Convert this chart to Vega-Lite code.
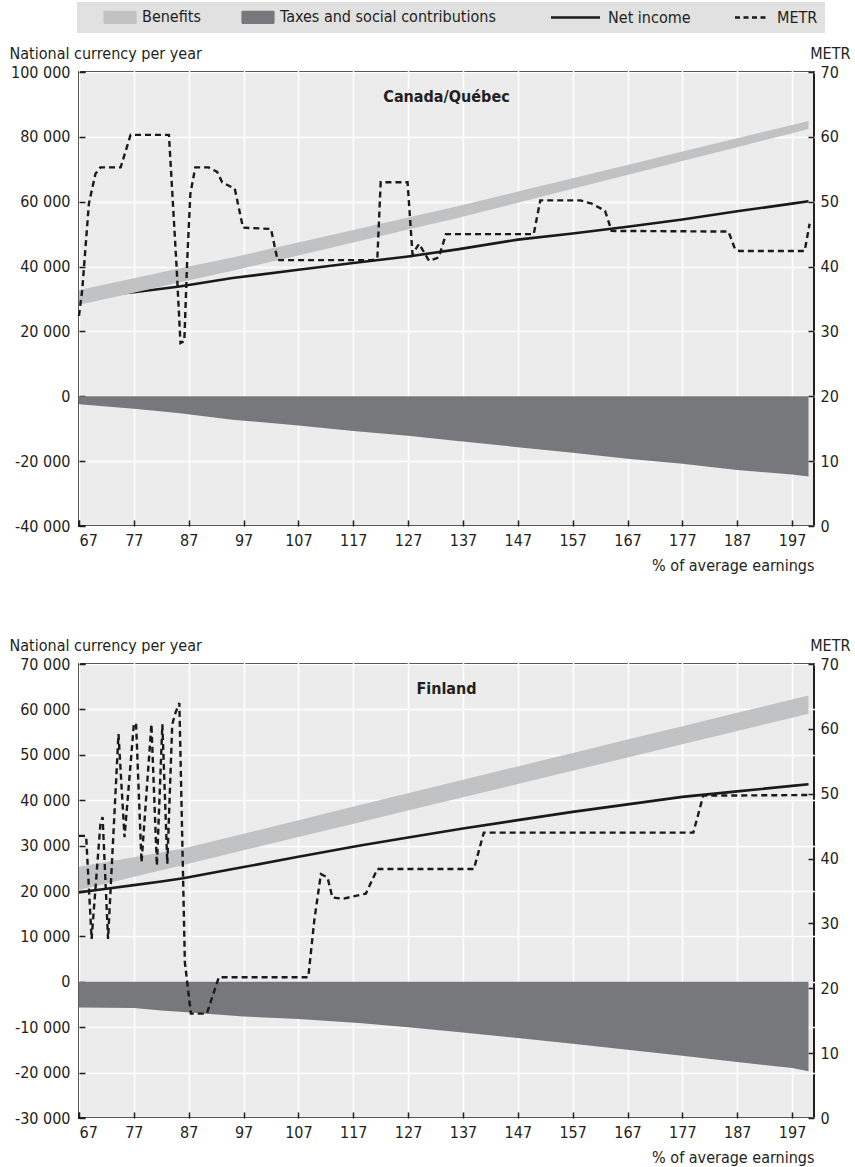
{
  "$schema": "https://vega.github.io/schema/vega-lite/v6.json",
  "padding": {"left": 8, "right": 5, "top": 2, "bottom": 2},
  "config": {
    "font": "DejaVu Sans Condensed, Liberation Sans, sans-serif",
    "locale": {"number": {"decimal": ".", "thousands": " ", "grouping": [3], "currency": ["", ""], "minus": "-"}},
    "view": {"stroke": "#231f20", "strokeWidth": 2, "fill": "#ececec"},
    "axis": {
      "labelFont": "DejaVu Sans Condensed, Liberation Sans, sans-serif", "labelFontSize": 16, "labelColor": "#231f20",
      "titleFont": "DejaVu Sans Condensed, Liberation Sans, sans-serif", "titleFontSize": 16, "titleFontWeight": "normal", "titleColor": "#231f20",
      "grid": true, "gridColor": "#ffffff", "gridWidth": 1.5, "gridOpacity": 1,
      "domain": false, "tickColor": "#231f20", "tickWidth": 1.5, "tickSize": 6, "offset": -6, "labelPadding": 9
    },
    "legend": {
      "orient": "none", "legendX": -2, "legendY": -70, "direction": "horizontal",
      "fillColor": "#e1e1e1", "padding": 7, "columnPadding": 38, "labelOffset": 28,
      "symbolSize": 1600, "labelFont": "DejaVu Sans Condensed, Liberation Sans, sans-serif", "labelFontSize": 16,
      "labelColor": "#231f20", "labelLimit": 400
    },
    "concat": {"spacing": 62}
  },
  "datasets": {
    "ca": [
      {"pct": 67, "net_income": 30600, "earnings": 28200, "earnings_plus_benefits": 32800, "taxes": -2480},
      {"pct": 77, "net_income": 32100, "earnings": 31950, "earnings_plus_benefits": 36400, "taxes": -3810},
      {"pct": 85, "net_income": 33800, "earnings": 35000, "earnings_plus_benefits": 39300, "taxes": -5150},
      {"pct": 95, "net_income": 36450, "earnings": 38700, "earnings_plus_benefits": 42800, "taxes": -7200},
      {"pct": 107, "net_income": 39000, "earnings": 43450, "earnings_plus_benefits": 47420, "taxes": -8980},
      {"pct": 117, "net_income": 41080, "earnings": 47400, "earnings_plus_benefits": 51270, "taxes": -10740},
      {"pct": 127, "net_income": 43130, "earnings": 51400, "earnings_plus_benefits": 55120, "taxes": -12170},
      {"pct": 136, "net_income": 45300, "earnings": 55000, "earnings_plus_benefits": 58600, "taxes": -13750},
      {"pct": 147, "net_income": 48300, "earnings": 59710, "earnings_plus_benefits": 63120, "taxes": -15690},
      {"pct": 157, "net_income": 50200, "earnings": 63990, "earnings_plus_benefits": 67230, "taxes": -17430},
      {"pct": 167, "net_income": 52300, "earnings": 68270, "earnings_plus_benefits": 71340, "taxes": -19300},
      {"pct": 177, "net_income": 54500, "earnings": 72550, "earnings_plus_benefits": 75450, "taxes": -20840},
      {"pct": 187, "net_income": 57060, "earnings": 76830, "earnings_plus_benefits": 79560, "taxes": -22700},
      {"pct": 197, "net_income": 59400, "earnings": 81120, "earnings_plus_benefits": 83670, "taxes": -24150},
      {"pct": 200, "net_income": 60150, "earnings": 82400, "earnings_plus_benefits": 84900, "taxes": -24700}
    ],
    "ca_metr": [
      {"pct": 67, "metr": 32.4}, {"pct": 67.6, "metr": 36.5}, {"pct": 68.8, "metr": 49.7}, {"pct": 70, "metr": 54.3},
      {"pct": 70.9, "metr": 55.3}, {"pct": 74.6, "metr": 55.3}, {"pct": 76.4, "metr": 60.3}, {"pct": 83.4, "metr": 60.3},
      {"pct": 84.8, "metr": 39.8}, {"pct": 85.5, "metr": 28.2}, {"pct": 86.2, "metr": 28.5}, {"pct": 86.7, "metr": 40.4},
      {"pct": 87.3, "metr": 51.2}, {"pct": 88.2, "metr": 55.3}, {"pct": 90.6, "metr": 55.3}, {"pct": 92.2, "metr": 54.6},
      {"pct": 93.1, "metr": 53.0}, {"pct": 95.4, "metr": 52.0}, {"pct": 96.9, "metr": 46.0}, {"pct": 102, "metr": 45.8},
      {"pct": 103.2, "metr": 41.0}, {"pct": 120.5, "metr": 41.0}, {"pct": 121.4, "metr": 41.4}, {"pct": 122, "metr": 53.0},
      {"pct": 126.9, "metr": 53.0}, {"pct": 127.8, "metr": 41.9}, {"pct": 129, "metr": 43.5}, {"pct": 130.8, "metr": 40.9},
      {"pct": 132.6, "metr": 41.4}, {"pct": 133.9, "metr": 45.0}, {"pct": 149.9, "metr": 45.0}, {"pct": 151.1, "metr": 50.2},
      {"pct": 158.4, "metr": 50.2}, {"pct": 160.5, "metr": 49.7}, {"pct": 162.9, "metr": 48.6}, {"pct": 164.1, "metr": 45.5},
      {"pct": 185.4, "metr": 45.4}, {"pct": 186.6, "metr": 42.7}, {"pct": 187.4, "metr": 42.4}, {"pct": 199.3, "metr": 42.4},
      {"pct": 200.2, "metr": 46.6}
    ],
    "fi": [
      {"pct": 67, "net_income": 19700, "earnings": 20200, "earnings_plus_benefits": 25350, "taxes": -5660},
      {"pct": 72, "net_income": 20500, "earnings": 21660, "earnings_plus_benefits": 26400, "taxes": -5700},
      {"pct": 77, "net_income": 21300, "earnings": 23120, "earnings_plus_benefits": 27450, "taxes": -5770},
      {"pct": 82, "net_income": 22100, "earnings": 24580, "earnings_plus_benefits": 28500, "taxes": -6300},
      {"pct": 86, "net_income": 22790, "earnings": 25750, "earnings_plus_benefits": 29380, "taxes": -6650},
      {"pct": 97, "net_income": 25280, "earnings": 28960, "earnings_plus_benefits": 32600, "taxes": -7630},
      {"pct": 107, "net_income": 27540, "earnings": 31880, "earnings_plus_benefits": 35600, "taxes": -8220},
      {"pct": 118, "net_income": 29960, "earnings": 35090, "earnings_plus_benefits": 38900, "taxes": -9050},
      {"pct": 127, "net_income": 31770, "earnings": 37720, "earnings_plus_benefits": 41550, "taxes": -10000},
      {"pct": 137, "net_income": 33780, "earnings": 40640, "earnings_plus_benefits": 44500, "taxes": -11150},
      {"pct": 147, "net_income": 35610, "earnings": 43560, "earnings_plus_benefits": 47450, "taxes": -12380},
      {"pct": 157, "net_income": 37430, "earnings": 46480, "earnings_plus_benefits": 50400, "taxes": -13630},
      {"pct": 167, "net_income": 39080, "earnings": 49400, "earnings_plus_benefits": 53350, "taxes": -14950},
      {"pct": 177, "net_income": 40730, "earnings": 52320, "earnings_plus_benefits": 56300, "taxes": -16270},
      {"pct": 187, "net_income": 41940, "earnings": 55240, "earnings_plus_benefits": 59250, "taxes": -17650},
      {"pct": 197, "net_income": 43150, "earnings": 58160, "earnings_plus_benefits": 62200, "taxes": -19000},
      {"pct": 200, "net_income": 43520, "earnings": 59060, "earnings_plus_benefits": 63080, "taxes": -19700}
    ],
    "fi_metr": [
      {"pct": 67, "metr": 43.5}, {"pct": 68.3, "metr": 43.5}, {"pct": 69.3, "metr": 27.6}, {"pct": 70.9, "metr": 45.3},
      {"pct": 71.3, "metr": 46.4}, {"pct": 72.3, "metr": 27.6}, {"pct": 74.2, "metr": 59.2}, {"pct": 75.3, "metr": 43.3},
      {"pct": 77.0, "metr": 60.7}, {"pct": 77.4, "metr": 60.9}, {"pct": 78.4, "metr": 39.4}, {"pct": 80.2, "metr": 60.7},
      {"pct": 81.2, "metr": 38.9}, {"pct": 82.2, "metr": 60.7}, {"pct": 83.1, "metr": 39.2}, {"pct": 84.0, "metr": 60.7},
      {"pct": 84.6, "metr": 62.5}, {"pct": 85.3, "metr": 64.0}, {"pct": 86.3, "metr": 24.0}, {"pct": 87.4, "metr": 16.1},
      {"pct": 90.3, "metr": 16.1}, {"pct": 92.5, "metr": 21.7}, {"pct": 108.8, "metr": 21.7}, {"pct": 109.9, "metr": 30.5},
      {"pct": 111.1, "metr": 37.6}, {"pct": 112.3, "metr": 37.1}, {"pct": 113.2, "metr": 34.0}, {"pct": 115.1, "metr": 33.8},
      {"pct": 119.3, "metr": 34.6}, {"pct": 121.4, "metr": 38.4}, {"pct": 139.0, "metr": 38.4}, {"pct": 140.8, "metr": 44.0},
      {"pct": 179.0, "metr": 44.0}, {"pct": 180.8, "metr": 49.7}, {"pct": 200.5, "metr": 49.8}
    ]
  },
  "vconcat": [
    {
      "width": 735, "height": 454,
      "title": {"text": "Canada/Québec", "anchor": "middle", "frame": "group", "offset": -60, "fontSize": 16, "fontWeight": "bold", "font": "DejaVu Sans Condensed, Liberation Sans, sans-serif", "color": "#231f20"},
      "encoding": {
        "x": {"field": "pct", "type": "quantitative",
          "scale": {"domain": [67, 201], "nice": false, "zero": false},
          "axis": {"values": [67, 77, 87, 97, 107, 117, 127, 137, 147, 157, 167, 177, 187, 197], "title": "% of average earnings", "titleAlign": "right", "titleX": 735, "titleY": 45, "titleBaseline": "middle", "labelPadding": 6}}
      },
      "layer": [
        {
          "data": {"name": "ca"},
          "layer": [
            {"mark": {"type": "line", "strokeWidth": 2.6},
             "encoding": {
               "y": {"field": "net_income", "type": "quantitative", "scale": {"domain": [-40000, 100000], "nice": false},
                 "title": "National currency per year",
                 "axis": {"values": [-40000, -20000, 0, 20000, 40000, 60000, 80000, 100000], "format": ",d", "titleAngle": 0, "titleAlign": "left", "titleBaseline": "middle", "titleX": -76, "titleY": -19}},
               "color": {"datum": "Net income", "type": "nominal",
                 "scale": {"domain": ["Benefits", "Taxes and social contributions", "Net income", "METR"], "range": ["#c1c2c4", "#77787b", "#1a1a1a", "#1a1a1a"]},
                 "legend": {"title": null, "encode": {
                   "symbols": {"update": {
                     "shape": {"signal": "datum.value == 'Benefits' ? 'M0.6,-0.3H2.2V0.3H0.6Z' : (datum.value == 'Taxes and social contributions' ? 'M-0.4,-0.3H1.2V0.3H-0.4Z' : (datum.value == 'Net income' ? 'M0.45,0H2.9' : 'M-0.3,0H1.35'))"},
                     "fill": {"signal": "datum.value == 'Benefits' ? '#c1c2c4' : (datum.value == 'Taxes and social contributions' ? '#77787b' : 'transparent')"},
                     "stroke": {"value": "#231f20"},
                     "strokeWidth": {"signal": "(datum.value == 'Net income' || datum.value == 'METR') ? 2.6 : 1.2"},
                     "strokeDash": {"signal": "datum.value == 'METR' ? [5, 3.5] : [1, 0]"},
                     "opacity": {"value": 1}, "fillOpacity": {"value": 1}, "strokeOpacity": {"value": 1}
                   }},
                   "labels": {"update": {"dx": {"signal": "datum.value == 'Benefits' ? 14 : (datum.value == 'Net income' ? 30 : (datum.value == 'Taxes and social contributions' ? -6 : 0))"}}}
                 }}}
             }},
            {"mark": {"type": "area", "opacity": 1},
             "encoding": {
               "y": {"field": "earnings", "type": "quantitative", "title": "National currency per year"},
               "y2": {"field": "earnings_plus_benefits"},
               "color": {"datum": "Benefits", "type": "nominal"}
             }},
            {"mark": {"type": "area", "opacity": 1},
             "encoding": {
               "y": {"field": "taxes", "type": "quantitative", "title": "National currency per year"},
               "y2": {"datum": 0},
               "color": {"datum": "Taxes and social contributions", "type": "nominal"}
             }},
            {"mark": {"type": "rule", "color": "#231f20", "strokeWidth": 2.5},
             "encoding": {"y": {"datum": 0, "type": "quantitative", "title": "National currency per year"}}}
          ]
        },
        {
          "data": {"name": "ca_metr"},
          "mark": {"type": "line", "strokeWidth": 2.4, "strokeDash": [6, 4]},
          "encoding": {
            "y": {"field": "metr", "type": "quantitative", "scale": {"domain": [0, 70], "nice": false},
              "axis": {"orient": "right", "values": [0, 10, 20, 30, 40, 50, 60, 70], "grid": false, "title": "METR", "titleAngle": 0, "titleAlign": "right", "titleBaseline": "middle", "titleX": 42, "titleY": -19, "labelPadding": 6}},
            "color": {"datum": "METR", "type": "nominal"}
          }
        }
      ],
      "resolve": {"scale": {"y": "independent"}}
    },
    {
      "width": 735, "height": 454,
      "title": {"text": "Finland", "anchor": "middle", "frame": "group", "offset": -60, "fontSize": 16, "fontWeight": "bold", "font": "DejaVu Sans Condensed, Liberation Sans, sans-serif", "color": "#231f20"},
      "encoding": {
        "x": {"field": "pct", "type": "quantitative",
          "scale": {"domain": [67, 201], "nice": false, "zero": false},
          "axis": {"values": [67, 77, 87, 97, 107, 117, 127, 137, 147, 157, 167, 177, 187, 197], "title": "% of average earnings", "titleAlign": "right", "titleX": 735, "titleY": 45, "titleBaseline": "middle", "labelPadding": 6}}
      },
      "layer": [
        {
          "data": {"name": "fi"},
          "layer": [
            {"mark": {"type": "line", "strokeWidth": 2.6},
             "encoding": {
               "y": {"field": "net_income", "type": "quantitative", "scale": {"domain": [-30000, 70000], "nice": false},
                 "title": "National currency per year",
                 "axis": {"values": [-30000, -20000, -10000, 0, 10000, 20000, 30000, 40000, 50000, 60000, 70000], "format": ",d", "titleAngle": 0, "titleAlign": "left", "titleBaseline": "middle", "titleX": -76, "titleY": -19}},
               "color": {"datum": "Net income", "type": "nominal"}
             }},
            {"mark": {"type": "area", "opacity": 1},
             "encoding": {
               "y": {"field": "earnings", "type": "quantitative", "title": "National currency per year"},
               "y2": {"field": "earnings_plus_benefits"},
               "color": {"datum": "Benefits", "type": "nominal"}
             }},
            {"mark": {"type": "area", "opacity": 1},
             "encoding": {
               "y": {"field": "taxes", "type": "quantitative", "title": "National currency per year"},
               "y2": {"datum": 0},
               "color": {"datum": "Taxes and social contributions", "type": "nominal"}
             }},
            {"mark": {"type": "rule", "color": "#231f20", "strokeWidth": 2.5},
             "encoding": {"y": {"datum": 0, "type": "quantitative", "title": "National currency per year"}}}
          ]
        },
        {
          "data": {"name": "fi_metr"},
          "mark": {"type": "line", "strokeWidth": 2.4, "strokeDash": [6, 4]},
          "encoding": {
            "y": {"field": "metr", "type": "quantitative", "scale": {"domain": [0, 70], "nice": false},
              "axis": {"orient": "right", "values": [0, 10, 20, 30, 40, 50, 60, 70], "grid": false, "title": "METR", "titleAngle": 0, "titleAlign": "right", "titleBaseline": "middle", "titleX": 42, "titleY": -19, "labelPadding": 6}},
            "color": {"datum": "METR", "type": "nominal"}
          }
        }
      ],
      "resolve": {"scale": {"y": "independent"}}
    }
  ]
}
